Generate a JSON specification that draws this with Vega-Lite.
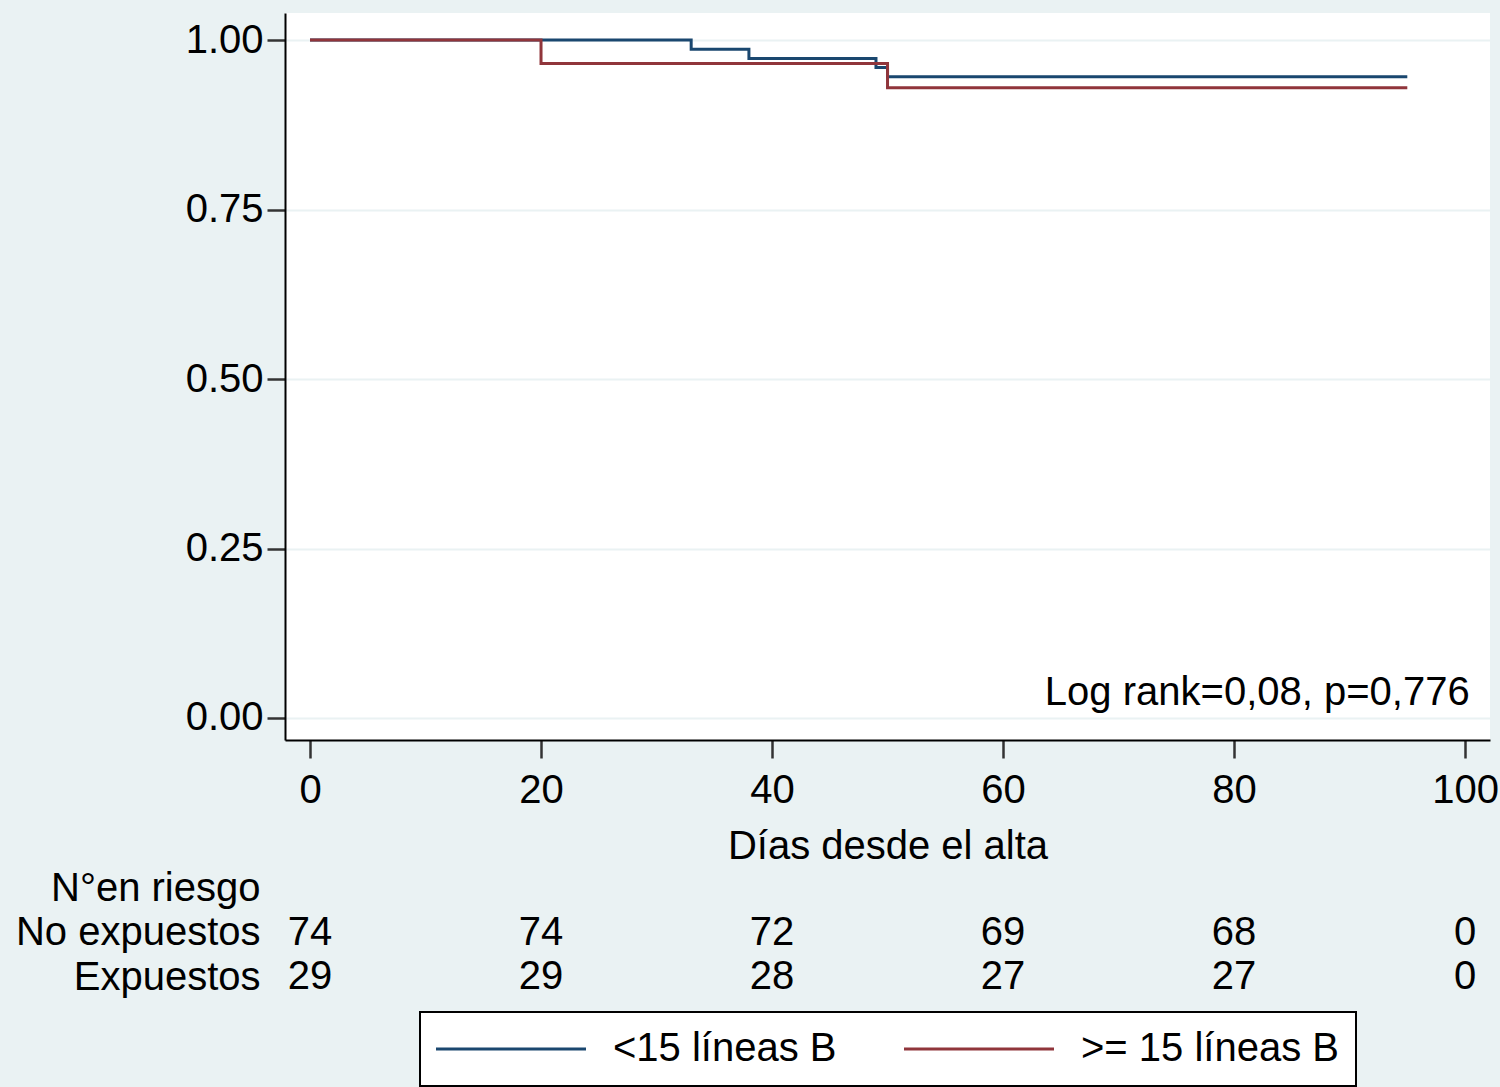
{
  "$schema": "https://vega.github.io/schema/vega-lite/v6.json",
  "background": "#eaf2f3",
  "padding": {"left": 15, "top": 13, "right": 2, "bottom": 2},
  "config": {
    "font": "Liberation Sans",
    "legend": {"strokeWidth": 2},
    "text": {"font": "Liberation Sans"}
  },
  "spacing": 0,
  "resolve": {"scale": {"x": "independent", "y": "independent"}},
  "vconcat": [
    {
      "width": 1205,
      "height": 727,
      "view": {"fill": "white", "stroke": null},
      "layer": [
        {
          "data": {
            "values": [
              {"grupo": "<15 líneas B", "dias": 0, "surv": 1},
              {"grupo": "<15 líneas B", "dias": 33, "surv": 0.9865},
              {"grupo": "<15 líneas B", "dias": 38, "surv": 0.973},
              {"grupo": "<15 líneas B", "dias": 49, "surv": 0.9595},
              {"grupo": "<15 líneas B", "dias": 50, "surv": 0.946},
              {"grupo": "<15 líneas B", "dias": 95, "surv": 0.946},
              {"grupo": ">= 15 líneas B", "dias": 0, "surv": 1},
              {"grupo": ">= 15 líneas B", "dias": 20, "surv": 0.9655},
              {"grupo": ">= 15 líneas B", "dias": 50, "surv": 0.9298},
              {"grupo": ">= 15 líneas B", "dias": 95, "surv": 0.9298}
            ]
          },
          "mark": {"type": "line", "interpolate": "step-after", "strokeWidth": 3},
          "encoding": {
            "x": {
              "field": "dias", "type": "quantitative",
              "scale": {"domain": [-2.165, 102.16], "nice": false, "zero": false},
              "axis": {
                "values": [0, 20, 40, 60, 80, 100],
                "title": "Días desde el alta",
                "titleFontSize": 40, "titleFontWeight": "normal", "titleColor": "black", "titlePadding": 16,
                "labelFontSize": 40, "labelColor": "black", "labelPadding": 12,
                "tickSize": 18, "tickWidth": 2.5, "tickColor": "#333333",
                "domainColor": "black", "domainWidth": 2,
                "grid": false
              }
            },
            "y": {
              "field": "surv", "type": "quantitative",
              "scale": {"domain": [-0.0325, 1.04], "nice": false, "zero": false},
              "axis": {
                "values": [0, 0.25, 0.5, 0.75, 1],
                "format": ".2f",
                "title": null,
                "labelFontSize": 40, "labelColor": "black", "labelPadding": 4,
                "tickSize": 18, "tickWidth": 2.5, "tickColor": "#333333",
                "domainColor": "black", "domainWidth": 2,
                "grid": true, "gridColor": "#eaf2f3", "gridWidth": 2
              }
            },
            "color": {
              "field": "grupo", "type": "nominal",
              "scale": {"domain": ["<15 líneas B", ">= 15 líneas B"], "range": ["#1a476f", "#90353b"]},
              "legend": {
                "orient": "none", "legendX": 135, "legendY": 999,
                "direction": "horizontal", "title": null,
                "symbolType": "M-1.4,0H8.6", "symbolSize": 900, "symbolStrokeWidth": 3,
                "labelFontSize": 40, "labelColor": "black", "labelOffset": 136, "labelLimit": 600,
                "columnPadding": 61, "padding": 17,
                "strokeColor": "black", "fillColor": "white"
              }
            }
          }
        },
        {
          "data": {"values": [{"x": 100.4, "y": 0.037, "t": "Log rank=0,08, p=0,776"}]},
          "mark": {"type": "text", "align": "right", "baseline": "middle", "fontSize": 40, "color": "black"},
          "encoding": {
            "x": {"field": "x", "type": "quantitative"},
            "y": {"field": "y", "type": "quantitative"},
            "text": {"field": "t"}
          }
        }
      ]
    },
    {
      "width": 1205,
      "height": 133.5,
      "view": {"stroke": null},
      "data": {
        "values": [
          {"fila": "No expuestos", "dias": 0, "n": 74},
          {"fila": "No expuestos", "dias": 20, "n": 74},
          {"fila": "No expuestos", "dias": 40, "n": 72},
          {"fila": "No expuestos", "dias": 60, "n": 69},
          {"fila": "No expuestos", "dias": 80, "n": 68},
          {"fila": "No expuestos", "dias": 100, "n": 0},
          {"fila": "Expuestos", "dias": 0, "n": 29},
          {"fila": "Expuestos", "dias": 20, "n": 29},
          {"fila": "Expuestos", "dias": 40, "n": 28},
          {"fila": "Expuestos", "dias": 60, "n": 27},
          {"fila": "Expuestos", "dias": 80, "n": 27},
          {"fila": "Expuestos", "dias": 100, "n": 0}
        ]
      },
      "mark": {"type": "text", "fontSize": 40, "baseline": "middle", "color": "black"},
      "encoding": {
        "x": {
          "field": "dias", "type": "quantitative",
          "scale": {"domain": [-2.165, 102.16], "nice": false, "zero": false},
          "axis": null
        },
        "y": {
          "field": "fila", "type": "nominal",
          "scale": {"domain": ["N°en riesgo", "No expuestos", "Expuestos"], "paddingInner": 0, "paddingOuter": 0},
          "axis": {
            "title": null, "domain": false, "ticks": false,
            "labelFontSize": 40, "labelColor": "black", "labelPadding": 25, "labelLimit": 600
          }
        },
        "text": {"field": "n", "type": "quantitative"}
      }
    }
  ]
}
